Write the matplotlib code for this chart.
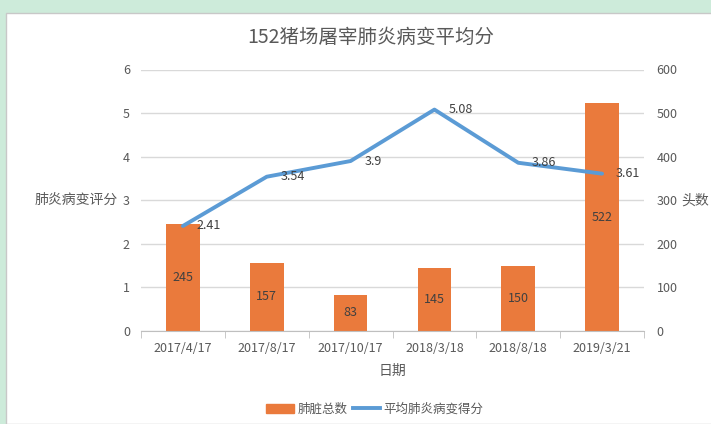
import matplotlib.pyplot as plt
from matplotlib.patches import Rectangle
from matplotlib.lines import Line2D

plt.rcParams['font.family'] = ['Noto Sans CJK SC', 'DejaVu Sans']

dates = ['2017/4/17', '2017/8/17', '2017/10/17', '2018/3/18', '2018/8/18', '2019/3/21']
lung_total = [245, 157, 83, 145, 150, 522]
avg_score = [2.41, 3.54, 3.9, 5.08, 3.86, 3.61]

grey = '#595959'
orange = '#EA7A3C'
blue = '#5B9BD5'

fig = plt.figure(figsize=(7.11, 4.24), dpi=100)
fig.patch.set_facecolor('#CDEBDA')
# white chart area with a thin border
fig.patches.append(Rectangle((6/711, 0), 1, 1 - 13/424, transform=fig.transFigure,
                             facecolor='white', edgecolor='#C8C8C8', lw=1, zorder=-5))

ax2 = fig.add_axes([141/711, 1 - 331/424, 503/711, (331 - 69.5)/424])
ax = ax2.twinx()
ax.set_zorder(ax2.get_zorder() + 1)
ax.patch.set_visible(False)
ax2.patch.set_visible(False)

x = list(range(len(dates)))

# bars on right axis
bars = ax2.bar(x, lung_total, width=0.4, color=orange, zorder=2)
for xi, v in zip(x, lung_total):
    ax2.text(xi, v / 2, str(v), ha='center', va='center', fontsize=9, color='#404040', zorder=3)
ax2.set_ylim(0, 600)
ax2.set_yticks(range(0, 601, 100))
ax2.yaxis.tick_right()
ax2.yaxis.set_label_position('right')
ax2.grid(axis='y', color='#D9D9D9', lw=1, zorder=0)
ax2.set_axisbelow(True)

# line on left axis
ax.plot(x, avg_score, color=blue, lw=2.8, solid_capstyle='round')
for xi, v in zip(x, avg_score):
    ax.annotate(f'{v:g}', (xi, v), xytext=(10, 0), textcoords='offset points',
                ha='left', va='center', fontsize=9, color='#404040')
ax.set_ylim(0, 6)
ax.set_yticks(range(0, 7))
ax.yaxis.tick_left()
ax.yaxis.set_label_position('left')

ax2.set_xlim(-0.5, len(dates) - 0.5)
ax2.set_xticks(x)
ax2.set_xticklabels(dates)
ax2.set_xticks([i - 0.5 for i in range(len(dates) + 1)], minor=True)
ax2.tick_params(axis='x', which='major', length=0, pad=8, labelsize=9, colors=grey)
ax2.tick_params(axis='x', which='minor', length=5, color='#BFBFBF', direction='out')
ax2.tick_params(axis='y', length=0, pad=9, labelsize=9, colors=grey)
ax.tick_params(axis='y', length=0, pad=8, labelsize=9, colors=grey)

for a in (ax, ax2):
    for s in ('top', 'left', 'right'):
        a.spines[s].set_visible(False)
ax.spines['bottom'].set_visible(False)
ax2.spines['bottom'].set_color('#BFBFBF')

ax.set_ylabel('肺炎病变评分', rotation=0, fontsize=10, color=grey, ha='right', va='center')
ax.yaxis.set_label_coords(-0.047, 0.5)
ax2.set_ylabel('头数', rotation=0, fontsize=10, color=grey, ha='left', va='center')
ax2.yaxis.set_label_coords(1.075, 0.5)
ax2.set_xlabel('日期', fontsize=10, color=grey, labelpad=6)

fig.text(371/711, 1 - 37/424, '152猪场屠宰肺炎病变平均分', ha='center', va='center',
         fontsize=14, color=grey)

handles = [Rectangle((0, 0), 1, 1, color=orange), Line2D([0], [0], color=blue, lw=2.8)]
fig.legend(handles, ['肺脏总数', '平均肺炎病变得分'], loc='center', ncol=2,
           bbox_to_anchor=(375/711, 1 - 409/424), frameon=False, fontsize=9,
           labelcolor=grey, handlelength=2.2, handletextpad=0.3, columnspacing=0.4)

fig.savefig('out.png', dpi=100)
